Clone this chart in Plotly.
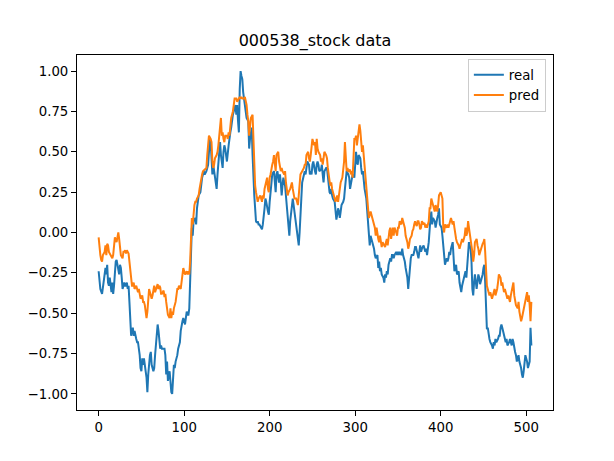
import plotly.graph_objects as go

TITLE = "000538_stock data"
SERIES_NAMES = ["real", "pred"]
X_TICKS = [0, 100, 200, 300, 400, 500]
Y_TICKS = [-1.0, -0.75, -0.5, -0.25, 0.0, 0.25, 0.5, 0.75, 1.0]

real_step = [
    0, 2, 4, 5, 7, 8, 9, 10, 11, 12, 13, 14, 15, 16, 17, 18, 19, 20, 21, 23, 24, 25, 26, 27, 28, 30,
    31, 32, 33, 34, 35, 36, 37, 38, 39, 40, 41, 42, 44, 45, 46, 47, 48, 49, 50, 51, 52, 53, 54, 55,
    56, 57, 58, 59, 60, 61, 62, 64, 65, 66, 67, 68, 69, 70, 71, 72, 73, 74, 76, 77, 78, 79, 80, 81,
    83, 84, 85, 86, 87, 88, 89, 90, 92, 93, 95, 96, 98, 99, 101, 102, 103, 104, 105, 106, 107, 108,
    109, 110, 111, 113, 114, 115, 116, 117, 119, 120, 121, 122, 123, 124, 126, 127, 128, 129, 130,
    131, 132, 133, 134, 135, 136, 138, 139, 140, 141, 142, 143, 145, 146, 147, 148, 149, 150, 152,
    153, 154, 155, 156, 157, 159, 160, 161, 162, 163, 164, 165, 166, 167, 168, 169, 170, 171, 172,
    173, 175, 176, 177, 178, 179, 180, 181, 182, 184, 185, 186, 187, 188, 189, 191, 192, 193, 194,
    195, 196, 198, 199, 200, 201, 202, 203, 205, 206, 207, 208, 209, 211, 212, 213, 214, 215, 216,
    218, 219, 220, 221, 222, 223, 224, 226, 227, 228, 229, 230, 231, 233, 234, 235, 236, 237, 238,
    240, 241, 242, 243, 244, 246, 247, 248, 249, 250, 251, 253, 254, 255, 256, 257, 258, 260, 261,
    262, 263, 264, 266, 267, 268, 269, 270, 271, 272, 273, 274, 276, 277, 278, 279, 280, 281, 282,
    283, 284, 286, 287, 288, 289, 290, 292, 293, 294, 295, 296, 297, 299, 300, 301, 302, 303, 304,
    306, 307, 308, 309, 310, 311, 313, 314, 315, 316, 317, 318, 320, 321, 322, 323, 324, 326, 327,
    328, 329, 330, 331, 333, 334, 335, 336, 337, 338, 339, 341, 342, 343, 344, 345, 346, 348, 349,
    350, 351, 352, 354, 355, 356, 357, 358, 359, 361, 362, 363, 364, 365, 366, 368, 369, 370, 371,
    373, 374, 375, 376, 377, 378, 380, 381, 382, 383, 384, 386, 387, 388, 389, 390, 391, 393, 394,
    395, 396, 397, 398, 399, 401, 402, 403, 404, 405, 407, 408, 409, 410, 411, 412, 414, 415, 416,
    417, 418, 419, 421, 422, 423, 424, 425, 426, 428, 429, 430, 431, 432, 433, 435, 436, 437, 438,
    439, 440, 442, 443, 444, 445, 446, 447, 449, 450, 451, 452, 453, 454, 455, 456, 457, 458, 460,
    461, 462, 463, 464, 465, 467, 468, 469, 470, 471, 472, 474, 475, 476, 477, 478, 480, 481, 482,
    483, 484, 485, 487, 488, 489, 490, 491, 492, 494, 495, 496, 497, 498, 499, 501, 502, 503, 504,
    505, 506,
]
real_value = [
    -0.24, -0.35, -0.38, -0.33, -0.26, -0.22, -0.26, -0.20, -0.31, -0.33, -0.28, -0.35, -0.37, -0.31,
    -0.38, -0.33, -0.24, -0.18, -0.17, -0.22, -0.26, -0.20, -0.22, -0.28, -0.35, -0.31, -0.33, -0.33,
    -0.31, -0.35, -0.33, -0.43, -0.59, -0.64, -0.61, -0.59, -0.64, -0.61, -0.66, -0.68, -0.68, -0.72,
    -0.76, -0.84, -0.86, -0.78, -0.82, -0.78, -0.84, -0.86, -0.90, -0.99, -0.88, -0.80, -0.76, -0.74,
    -0.82, -0.86, -0.84, -0.76, -0.68, -0.64, -0.57, -0.61, -0.68, -0.72, -0.70, -0.72, -0.72, -0.72,
    -0.76, -0.88, -0.80, -0.92, -0.86, -0.95, -0.99, -1.00, -0.88, -0.82, -0.84, -0.80, -0.76, -0.72,
    -0.68, -0.61, -0.55, -0.53, -0.57, -0.53, -0.49, -0.51, -0.51, -0.47, -0.24, -0.06, 0.03, -0.02,
    0.07, 0.09, 0.05, 0.15, 0.19, 0.23, 0.25, 0.31, 0.34, 0.36, 0.38, 0.36, 0.38, 0.40, 0.42, 0.50,
    0.58, 0.56, 0.48, 0.36, 0.42, 0.38, 0.34, 0.27, 0.36, 0.42, 0.50, 0.56, 0.48, 0.40, 0.50, 0.54,
    0.52, 0.48, 0.44, 0.54, 0.60, 0.62, 0.65, 0.69, 0.73, 0.77, 0.79, 0.73, 0.79, 0.69, 0.62, 0.89,
    1.00, 0.97, 0.95, 0.87, 0.82, 0.78, 0.73, 0.71, 0.69, 0.52, 0.58, 0.62, 0.65, 0.48, 0.27, 0.23,
    0.07, 0.06, 0.07, 0.05, 0.05, 0.04, 0.02, 0.05, 0.09, 0.15, 0.21, 0.19, 0.13, 0.11, 0.19, 0.27,
    0.31, 0.36, 0.38, 0.31, 0.25, 0.36, 0.38, 0.31, 0.36, 0.31, 0.23, 0.29, 0.34, 0.29, 0.23, 0.19,
    0.11, 0.07, -0.02, 0.07, 0.17, 0.21, 0.17, 0.13, 0.07, 0.03, -0.02, -0.08, 0.00, 0.15, 0.21, 0.31,
    0.36, 0.38, 0.36, 0.40, 0.44, 0.42, 0.36, 0.38, 0.36, 0.42, 0.44, 0.38, 0.36, 0.42, 0.44, 0.42,
    0.38, 0.39, 0.42, 0.36, 0.31, 0.38, 0.40, 0.40, 0.33, 0.28, 0.25, 0.24, 0.27, 0.23, 0.21, 0.19,
    0.13, 0.08, 0.11, 0.15, 0.13, 0.09, 0.13, 0.17, 0.19, 0.21, 0.27, 0.36, 0.38, 0.36, 0.34, 0.27,
    0.31, 0.34, 0.36, 0.34, 0.48, 0.50, 0.44, 0.42, 0.48, 0.46, 0.40, 0.36, 0.38, 0.31, 0.27, 0.21,
    0.13, 0.03, -0.06, -0.08, -0.02, -0.06, -0.08, -0.10, -0.14, -0.16, -0.14, -0.22, -0.18, -0.24,
    -0.22, -0.26, -0.28, -0.31, -0.26, -0.28, -0.24, -0.26, -0.20, -0.16, -0.18, -0.14, -0.14, -0.16,
    -0.14, -0.12, -0.14, -0.12, -0.14, -0.12, -0.14, -0.10, -0.14, -0.16, -0.18, -0.22, -0.28, -0.35,
    -0.27, -0.21, -0.16, -0.14, -0.14, -0.12, -0.09, -0.09, -0.14, -0.16, -0.12, -0.08, -0.12, -0.10,
    -0.08, -0.10, -0.12, -0.10, -0.14, -0.06, 0.03, 0.09, 0.13, 0.05, 0.09, 0.07, 0.03, 0.07, 0.09,
    0.11, 0.15, 0.05, 0.03, -0.02, -0.10, -0.18, -0.20, -0.16, -0.18, -0.16, -0.12, -0.14, -0.10,
    -0.06, -0.14, -0.24, -0.22, -0.20, -0.26, -0.24, -0.31, -0.35, -0.37, -0.33, -0.31, -0.26, -0.24,
    -0.28, -0.22, -0.14, -0.06, -0.10, -0.18, -0.35, -0.39, -0.31, -0.26, -0.35, -0.31, -0.26, -0.28,
    -0.32, -0.30, -0.26, -0.22, -0.20, -0.31, -0.47, -0.60, -0.59, -0.64, -0.66, -0.68, -0.70, -0.72,
    -0.68, -0.70, -0.66, -0.68, -0.66, -0.64, -0.64, -0.59, -0.57, -0.59, -0.64, -0.66, -0.68, -0.66,
    -0.70, -0.68, -0.66, -0.68, -0.70, -0.66, -0.68, -0.74, -0.76, -0.80, -0.78, -0.76, -0.80, -0.84,
    -0.88, -0.90, -0.86, -0.80, -0.76, -0.80, -0.84, -0.82, -0.80, -0.59, -0.70,
]

pred_step = [
    0, 1, 2, 3, 4, 5, 7, 8, 9, 10, 11, 12, 14, 15, 16, 17, 18, 19, 21, 22, 23, 24, 25, 26, 28, 29,
    30, 31, 32, 33, 35, 36, 37, 38, 39, 40, 41, 42, 44, 45, 46, 47, 48, 49, 51, 52, 53, 54, 55, 56,
    57, 58, 59, 60, 62, 63, 64, 65, 66, 67, 69, 70, 71, 72, 73, 74, 76, 77, 78, 79, 80, 81, 83, 84,
    85, 86, 87, 88, 90, 91, 92, 93, 94, 96, 97, 98, 99, 100, 101, 103, 104, 105, 106, 107, 108, 109,
    110, 111, 112, 113, 114, 115, 117, 118, 119, 120, 121, 122, 124, 125, 126, 127, 128, 129, 131,
    132, 133, 134, 135, 136, 138, 139, 140, 141, 142, 143, 144, 145, 146, 147, 148, 150, 151, 152,
    153, 154, 155, 157, 158, 159, 160, 161, 162, 164, 165, 166, 167, 168, 170, 171, 172, 173, 174,
    175, 176, 177, 178, 180, 181, 182, 183, 184, 185, 186, 187, 189, 190, 191, 192, 193, 194, 196,
    197, 198, 199, 200, 201, 203, 204, 205, 206, 207, 208, 210, 211, 212, 213, 214, 215, 217, 218,
    219, 220, 221, 222, 224, 225, 226, 227, 228, 229, 231, 232, 233, 234, 235, 236, 238, 239, 240,
    241, 242, 243, 245, 246, 247, 248, 249, 250, 252, 253, 254, 255, 256, 257, 259, 260, 261, 262,
    263, 264, 266, 267, 268, 269, 270, 271, 272, 273, 274, 275, 277, 278, 279, 280, 281, 282, 283,
    285, 286, 287, 288, 289, 290, 291, 292, 293, 294, 295, 296, 297, 298, 299, 300, 301, 302, 303,
    304, 305, 306, 307, 308, 309, 310, 311, 312, 313, 314, 315, 316, 317, 318, 320, 321, 322, 323,
    324, 325, 327, 328, 329, 330, 331, 332, 334, 335, 336, 337, 338, 339, 340, 341, 342, 343, 344,
    345, 346, 348, 349, 350, 351, 352, 354, 355, 356, 357, 358, 359, 361, 362, 363, 364, 365, 366,
    367, 368, 369, 370, 371, 372, 373, 374, 375, 376, 377, 378, 380, 381, 382, 383, 384, 386, 387,
    388, 389, 390, 391, 393, 394, 395, 396, 397, 398, 400, 401, 402, 403, 404, 405, 407, 408, 409,
    410, 411, 412, 414, 415, 416, 417, 418, 419, 421, 422, 423, 424, 425, 426, 428, 429, 430, 431,
    432, 433, 435, 436, 437, 438, 439, 440, 442, 443, 444, 445, 446, 447, 449, 450, 451, 452, 453,
    454, 455, 456, 457, 458, 459, 460, 461, 462, 463, 464, 465, 466, 467, 468, 470, 471, 472, 473,
    474, 475, 477, 478, 479, 480, 481, 482, 484, 485, 486, 487, 488, 490, 491, 492, 493, 494, 495,
    497, 498, 499, 500, 501, 502, 503, 504, 505, 506,
]
pred_value = [
    -0.03, -0.10, -0.14, -0.17, -0.18, -0.14, -0.12, -0.08, -0.14, -0.07, -0.08, -0.12, -0.14, -0.15,
    -0.16, -0.14, -0.08, -0.03, -0.06, -0.02, 0.00, -0.04, -0.12, -0.14, -0.16, -0.12, -0.12, -0.11,
    -0.13, -0.11, -0.13, -0.18, -0.24, -0.31, -0.33, -0.33, -0.31, -0.35, -0.33, -0.35, -0.37, -0.35,
    -0.39, -0.41, -0.39, -0.43, -0.43, -0.45, -0.49, -0.53, -0.49, -0.41, -0.35, -0.37, -0.41, -0.39,
    -0.35, -0.33, -0.37, -0.35, -0.32, -0.35, -0.33, -0.34, -0.38, -0.38, -0.36, -0.40, -0.38, -0.43,
    -0.49, -0.51, -0.53, -0.47, -0.53, -0.49, -0.51, -0.47, -0.43, -0.39, -0.35, -0.35, -0.33, -0.35,
    -0.31, -0.26, -0.22, -0.24, -0.26, -0.24, -0.26, -0.24, -0.26, -0.18, 0.05, 0.09, 0.05, 0.13, 0.17,
    0.19, 0.19, 0.21, 0.23, 0.27, 0.31, 0.34, 0.36, 0.38, 0.39, 0.40, 0.40, 0.48, 0.56, 0.60, 0.58,
    0.56, 0.44, 0.40, 0.42, 0.46, 0.48, 0.50, 0.54, 0.60, 0.69, 0.71, 0.60, 0.62, 0.58, 0.56, 0.60,
    0.60, 0.58, 0.62, 0.60, 0.67, 0.71, 0.75, 0.81, 0.83, 0.83, 0.83, 0.81, 0.83, 0.84, 0.83, 0.84,
    0.83, 0.83, 0.84, 0.82, 0.79, 0.73, 0.69, 0.60, 0.65, 0.71, 0.73, 0.60, 0.36, 0.29, 0.25, 0.21,
    0.19, 0.21, 0.23, 0.21, 0.19, 0.23, 0.21, 0.27, 0.31, 0.34, 0.27, 0.25, 0.34, 0.36, 0.42, 0.44,
    0.48, 0.42, 0.38, 0.48, 0.50, 0.44, 0.40, 0.38, 0.40, 0.38, 0.36, 0.38, 0.31, 0.27, 0.23, 0.25,
    0.27, 0.29, 0.31, 0.27, 0.23, 0.21, 0.21, 0.19, 0.17, 0.23, 0.31, 0.36, 0.38, 0.39, 0.40, 0.42,
    0.42, 0.48, 0.50, 0.46, 0.44, 0.48, 0.52, 0.58, 0.54, 0.56, 0.48, 0.58, 0.52, 0.50, 0.48, 0.44,
    0.46, 0.42, 0.46, 0.50, 0.48, 0.46, 0.40, 0.34, 0.32, 0.29, 0.31, 0.27, 0.25, 0.23, 0.19, 0.21,
    0.23, 0.19, 0.23, 0.27, 0.31, 0.34, 0.38, 0.44, 0.56, 0.48, 0.38, 0.40, 0.38, 0.38, 0.39, 0.36,
    0.38, 0.34, 0.44, 0.58, 0.58, 0.60, 0.54, 0.58, 0.60, 0.67, 0.63, 0.56, 0.50, 0.54, 0.48, 0.42,
    0.33, 0.31, 0.23, 0.15, 0.09, 0.11, 0.13, 0.09, 0.07, 0.05, 0.03, -0.02, 0.03, -0.04, -0.06, -0.02,
    -0.08, -0.09, -0.06, -0.08, -0.09, -0.06, -0.04, -0.08, -0.02, 0.01, 0.03, -0.04, 0.00, 0.03, -0.02,
    0.03, 0.00, -0.02, 0.03, 0.03, 0.07, 0.05, 0.09, 0.07, 0.05, 0.03, -0.02, -0.06, -0.10, -0.08,
    -0.04, -0.03, -0.02, 0.01, 0.02, 0.05, 0.07, 0.05, 0.04, 0.07, 0.07, 0.05, 0.02, 0.03, 0.07, 0.05,
    0.06, 0.03, 0.05, 0.03, 0.07, 0.15, 0.15, 0.21, 0.19, 0.17, 0.13, 0.17, 0.15, 0.13, 0.17, 0.23,
    0.25, 0.23, 0.21, 0.03, 0.00, 0.05, 0.03, 0.05, 0.03, 0.05, 0.07, 0.09, 0.05, 0.07, 0.03, -0.02,
    -0.04, -0.06, -0.08, -0.10, -0.08, -0.06, -0.04, -0.06, -0.02, 0.03, -0.02, 0.00, 0.07, 0.03, -0.04,
    -0.08, -0.12, -0.18, -0.14, -0.06, -0.04, -0.08, -0.10, -0.14, -0.12, -0.11, -0.07, -0.06, -0.04,
    -0.12, -0.28, -0.33, -0.35, -0.37, -0.39, -0.37, -0.39, -0.41, -0.39, -0.37, -0.35, -0.39, -0.37,
    -0.35, -0.31, -0.26, -0.28, -0.33, -0.31, -0.35, -0.37, -0.35, -0.39, -0.41, -0.39, -0.41, -0.43,
    -0.39, -0.33, -0.31, -0.39, -0.43, -0.45, -0.47, -0.43, -0.49, -0.53, -0.55, -0.53, -0.47, -0.45,
    -0.41, -0.39, -0.37, -0.43, -0.39, -0.45, -0.55, -0.43,
]

COLORS = ["#1f77b4", "#ff7f0e"]
FONT = "DejaVu Sans"

fig = go.Figure()
for name, xs, ys, color in [
    (SERIES_NAMES[0], real_step, real_value, COLORS[0]),
    (SERIES_NAMES[1], pred_step, pred_value, COLORS[1]),
]:
    fig.add_trace(go.Scatter(x=xs, y=ys, mode="lines", name=name,
                             line=dict(color=color, width=2)))

n_last = max(real_step[-1], pred_step[-1])
pad_x = 0.05 * n_last
all_vals = real_value + pred_value
lo, hi = min(all_vals), max(all_vals)
pad_y = 0.05 * (hi - lo)

axis_common = dict(
    showline=True, linecolor="black", linewidth=1, mirror=True,
    ticks="outside", ticklen=5, tickwidth=1, tickcolor="black",
    showgrid=False, zeroline=False,
    tickfont=dict(family=FONT, size=13.3, color="black"),
)

fig.update_layout(
    width=614, height=461,
    margin=dict(l=77, r=61, t=55, b=51),
    paper_bgcolor="white", plot_bgcolor="white",
    font=dict(family=FONT, size=13.3, color="black"),
    title=dict(text=TITLE, x=0.5, xref="paper", xanchor="center",
               y=1, yref="paper", yanchor="bottom", pad=dict(b=9),
               font=dict(family=FONT, size=16, color="black")),
    xaxis=dict(range=[-pad_x, n_last + pad_x], tickvals=X_TICKS, **axis_common),
    yaxis=dict(range=[lo - pad_y, hi + pad_y], tickvals=Y_TICKS, tickformat=".2f",
               **axis_common),
    legend=dict(x=0.985, y=0.99, xanchor="right", yanchor="top",
                bgcolor="rgba(255,255,255,0.8)", bordercolor="#cccccc", borderwidth=1,
                font=dict(family=FONT, size=13.3, color="black"),
                tracegroupgap=0, itemwidth=30),
    showlegend=True,
)

fig.write_html("out.html")
